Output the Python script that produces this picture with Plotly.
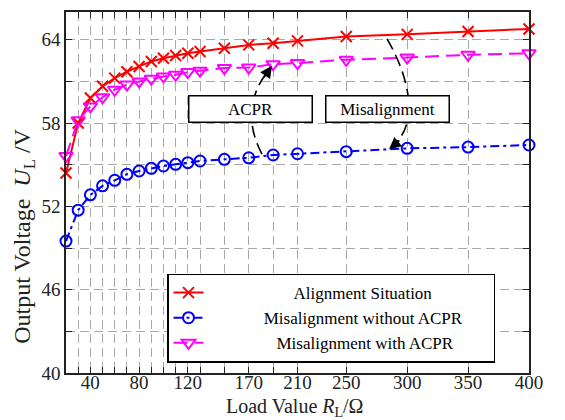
import plotly.graph_objects as go

# ---------------- data ----------------
load_values = [20, 30, 40, 50, 60, 70, 80, 90, 100, 110, 120, 130, 150, 170, 190, 210, 250, 300, 350, 400]
alignment = [54.4, 58.0, 59.8, 60.65, 61.24, 61.7, 62.08, 62.44, 62.67, 62.87, 63.03, 63.15,
             63.39, 63.63, 63.75, 63.92, 64.23, 64.39, 64.59, 64.78]
mis_without = [49.5, 51.73, 52.83, 53.48, 53.88, 54.31, 54.55, 54.74, 54.91, 55.03, 55.15, 55.27,
               55.39, 55.5, 55.7, 55.79, 55.94, 56.18, 56.27, 56.42]
mis_with = [55.63, 58.2, 59.2, 59.86, 60.4, 60.77, 61.0, 61.2, 61.36, 61.48, 61.67, 61.77,
            61.96, 62.0, 62.24, 62.32, 62.56, 62.72, 62.92, 63.03]

x_labelled = [40, 80, 120, 170, 210, 250, 300, 350, 400]
y_ticks = [40, 43, 46, 49, 52, 55, 58, 61, 64]
y_labelled = [40, 46, 52, 58, 64]

FONT = "Times New Roman, Liberation Serif, serif"
W, H = 565, 420
ML, MR, MT, MB = 66, 36, 10, 47
PW, PH = W - ML - MR, H - MT - MB


def fx(px):
    return (px - ML) / PW


def fy(py):
    return (H - MB - py) / PH


fig = go.Figure()
fig.add_trace(go.Scatter(
    x=load_values, y=alignment, mode="lines+markers",
    name="\u00a0" * 20 + "Alignment Situation",
    line=dict(color="#ff0000", width=2),
    marker=dict(symbol="x-thin", size=11, line=dict(color="#ff0000", width=2)),
    cliponaxis=False))
fig.add_trace(go.Scatter(
    x=load_values, y=mis_without, mode="lines+markers",
    name="\u00a0" * 13 + "Misalignment without ACPR" + "\u00a0" * 6,
    line=dict(color="#0000ff", width=2, dash="9px,4px,3px,4px"),
    marker=dict(symbol="circle-open", size=11, color="#0000ff", line=dict(color="#0000ff", width=2)),
    cliponaxis=False))
fig.add_trace(go.Scatter(
    x=load_values, y=mis_with, mode="lines+markers",
    name="\u00a0" * 16 + "Misalignment with ACPR",
    line=dict(color="#ff00ff", width=2, dash="14px,7px"),
    marker=dict(symbol="triangle-down-open", size=12, color="#ff00ff", line=dict(color="#ff00ff", width=2)),
    cliponaxis=False))

x_text = [str(v) if v in x_labelled else "" for v in load_values]
y_text = [str(v) if v in y_labelled else "" for v in y_ticks]

axis_common = dict(
    showline=True, linecolor="#222222", linewidth=1.5, mirror="ticks",
    ticks="inside", ticklen=6, tickwidth=1, tickcolor="#222222",
    showgrid=True, gridcolor="#a8a8a8", gridwidth=1, griddash="9px,5px",
    zeroline=False, tickfont=dict(family=FONT, size=19, color="#222222"),
)
fig.update_xaxes(range=[20, 400], tickmode="array", tickvals=load_values, ticktext=x_text,
                 ticklabelstandoff=-9, **axis_common)
fig.update_yaxes(range=[40, 66], tickmode="array", tickvals=y_ticks, ticktext=y_text, **axis_common)

# curved dashed pointer lines
fig.add_shape(type="path", xref="paper", yref="paper",
              path=f"M {fx(262)},{fy(153)} Q {fx(238)},{fy(107)} {fx(269)},{fy(68)}",
              line=dict(color="black", width=1.6, dash="12px,6px"))
fig.add_shape(type="path", xref="paper", yref="paper",
              path=f"M {fx(387)},{fy(37)} C {fx(412)},{fy(80)} {fx(418)},{fy(125)} {fx(392)},{fy(145)}",
              line=dict(color="black", width=1.6, dash="12px,6px"))

annos = []
# arrow heads
annos.append(dict(x=fx(272), y=fy(64), xref="paper", yref="paper", text="", showarrow=True,
                  ax=-9, ay=13, arrowhead=2, arrowsize=1.5, arrowwidth=1.6, arrowcolor="black", standoff=0))
annos.append(dict(x=fx(389), y=fy(148), xref="paper", yref="paper", text="", showarrow=True,
                  ax=12, ay=-10, arrowhead=2, arrowsize=1.5, arrowwidth=1.6, arrowcolor="black", standoff=0))
# label boxes
for label, cx in (("ACPR", 250), ("Misalignment", 387)):
    annos.append(dict(x=fx(cx), y=fy(107.5), xref="paper", yref="paper", text=label, showarrow=False,
                      xanchor="center", yanchor="middle", width=122, height=25,
                      bgcolor="white", bordercolor="black", borderwidth=1.5, borderpad=0,
                      font=dict(family=FONT, size=17, color="black")))
# axis titles
annos.append(dict(x=fx(294), y=fy(408), xref="paper", yref="paper", showarrow=False,
                  text="Load Value <i>R</i><sub>L</sub>/Ω", xanchor="center", yanchor="middle",
                  font=dict(family=FONT, size=20, color="#222222")))
annos.append(dict(x=fx(24), y=fy(236), xref="paper", yref="paper", showarrow=False, textangle=-90,
                  text="Output Voltage\u00a0\u00a0<i>U</i><sub>L</sub> /V", xanchor="center", yanchor="middle",
                  font=dict(family=FONT, size=24, color="#222222")))

fig.update_layout(
    width=W, height=H, margin=dict(l=ML, r=MR, t=MT, b=MB),
    paper_bgcolor="white", plot_bgcolor="white",
    font=dict(family=FONT, color="#222222"),
    annotations=annos,
    legend=dict(x=fx(167), y=fy(273), xanchor="left", yanchor="top",
                bgcolor="white", bordercolor="black", borderwidth=1.5,
                font=dict(family=FONT, size=17, color="black"), tracegroupgap=0),
    showlegend=True,
)

fig.write_html("out.html", config={"displayModeBar": False},
               post_script="document.body.style.margin='0';document.body.style.overflow='hidden';")
